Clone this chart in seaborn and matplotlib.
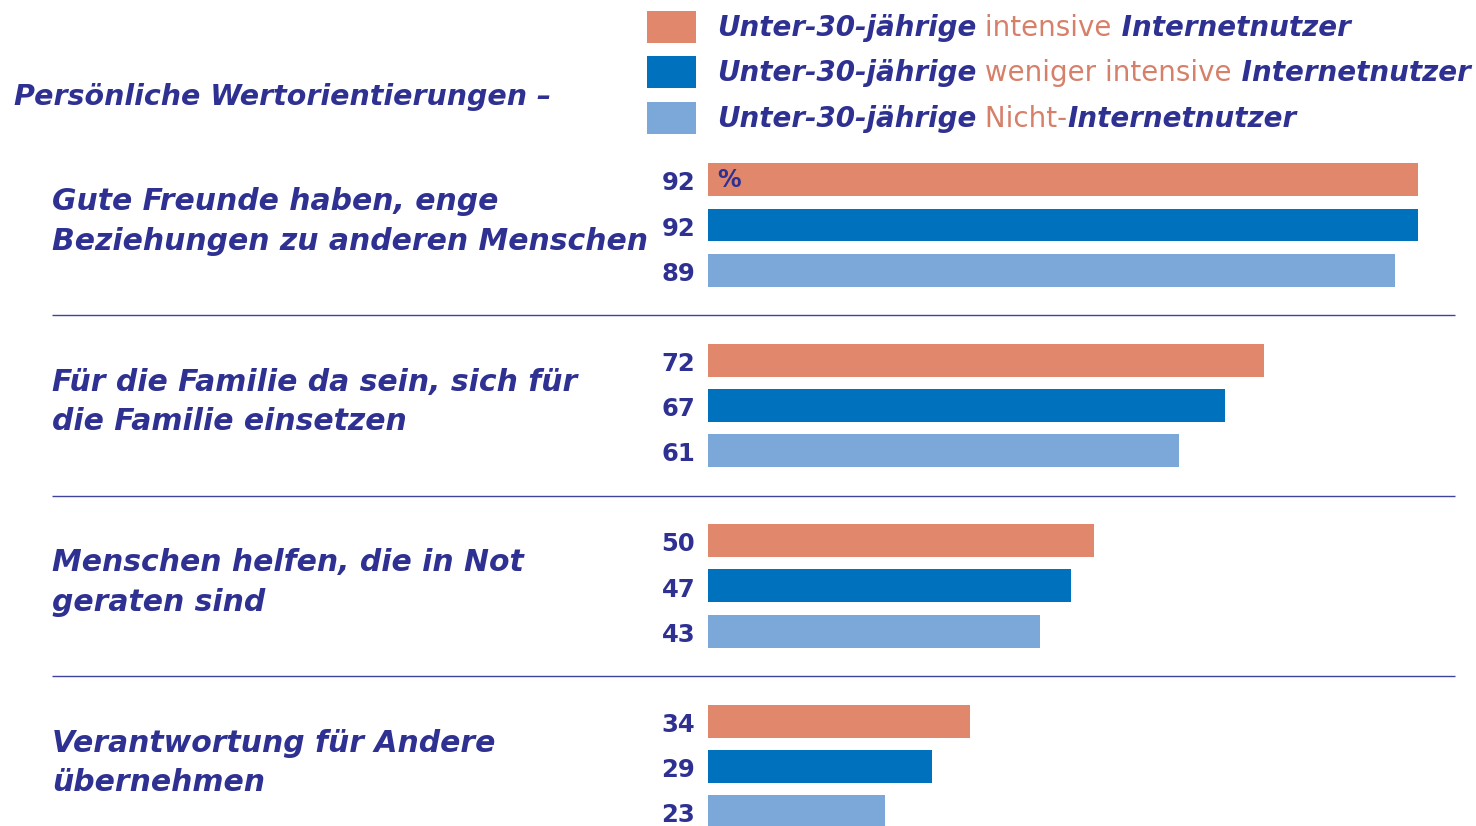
import matplotlib.pyplot as plt
from matplotlib.patches import Rectangle
import seaborn as sns
import pandas as pd

sns.set_theme(style="white")
plt.rcParams["font.family"] = ["DejaVu Sans"]

# data
categories = [
    "Gute Freunde haben, enge\nBeziehungen zu anderen Menschen",
    "Für die Familie da sein, sich für\ndie Familie einsetzen",
    "Menschen helfen, die in Not\ngeraten sind",
    "Verantwortung für Andere\nübernehmen",
]
groups = ["intensiv", "weniger intensiv", "nicht"]
intensive = [92, 72, 50, 34]
less_intensive = [92, 67, 47, 29]
non_users = [89, 61, 43, 23]

legend_parts = [
    ("Unter-30-jährige", " intensive", " Internetnutzer"),
    ("Unter-30-jährige", " weniger intensive", " Internetnutzer"),
    ("Unter-30-jährige", " Nicht-", "Internetnutzer"),
]
title = "Persönliche Wertorientierungen –"

NAVY = "#2E3192"
SALMON_TXT = "#D6806A"
colors = ["#E0876C", "#0071BC", "#7BA7D9"]

df = pd.DataFrame({
    "cat": categories * 3,
    "group": [g for g in groups for _ in categories],
    "value": intensive + less_intensive + non_users,
})

W, H = 1476, 826
fig = plt.figure(figsize=(W / 100, H / 100), dpi=100)
ax = fig.add_axes([708 / W, 0, (1455 - 708) / W, (H - 140) / H])

sns.barplot(data=df, y="cat", x="value", hue="group", hue_order=groups,
            order=categories, palette=colors, orient="h", width=0.75, gap=0.27,
            saturation=1, linewidth=0, legend=False, ax=ax)

ax.set_xlim(0, 747 / 7.717)
ax.set_ylim(3.33, -0.471)
ax.set_axis_off()

ytrans = ax.get_yaxis_transform()
txt_kw = dict(color=NAVY, fontweight="bold", fontstyle="italic")

# value labels left of the bars
for cont in ax.containers:
    for bar in cont:
        yc = bar.get_y() + bar.get_height() / 2 + 0.02
        ax.text(-0.017, yc, f"{bar.get_width():.0f}", transform=ytrans,
                ha="right", va="center", fontsize=17.5, fontweight="bold", color=NAVY)

first = ax.containers[0][0]
ax.text(1.2, first.get_y() + first.get_height() / 2, "%", ha="left", va="center",
        fontsize=17, fontweight="bold", color=NAVY)

# category labels and separators
x_lab = (52 - 708) / 747
for i, cat in enumerate(categories):
    ax.text(x_lab, i - 0.02, cat, transform=ytrans, ha="left", va="center",
            fontsize=21.5, linespacing=1.45, **txt_kw)
for k in range(1, len(categories)):
    ax.hlines(k - 0.5, x_lab, 1.0, transform=ytrans, color="#3F43A0", lw=1,
              clip_on=False)

fig.text(14 / W, 1 - 97 / H, title, ha="left", va="center", fontsize=20.5, **txt_kw)

# legend: coloured squares + mixed-colour text
legend_y = [27, 72, 118]
for (a, b, c), col, yc in zip(legend_parts, colors, legend_y):
    fig.add_artist(Rectangle((647 / W, 1 - (yc + 16) / H), 49 / W, 32 / H,
                             transform=fig.transFigure, color=col, lw=0))
    t1 = fig.text(717 / W, 1 - (yc + 1) / H, a, ha="left", va="center",
                  fontsize=20, **txt_kw)
    t2 = ax.annotate(b, xy=(1, 0), xycoords=t1, ha="left", va="bottom",
                     fontsize=20, fontweight="normal", fontstyle="normal",
                     color=SALMON_TXT, annotation_clip=False)
    ax.annotate(c, xy=(1, 0), xycoords=t2, ha="left", va="bottom",
                fontsize=20, annotation_clip=False, **txt_kw)

fig.savefig("out.png", dpi=100)
